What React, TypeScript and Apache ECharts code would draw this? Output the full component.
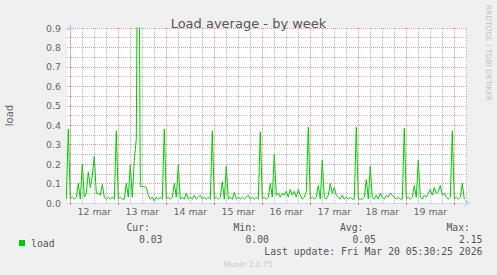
import React, { useEffect, useRef } from "react";
import * as echarts from "echarts";

// hours relative to Mar 12 00:00; first sample at Mar 11 22:00, hourly
const START_HOUR = -2;
const X_MIN = -1.65;
const X_MAX = 198.35;

const load: number[] = [
  // Mar 11 22:00 .. Mar 12 21:00
  0.02, 0.38, 0.02, 0.03, 0.02, 0.03, 0.10, 0.02, 0.20, 0.03, 0.05, 0.16, 0.08, 0.14, 0.24, 0.05, 0.05, 0.04, 0.095, 0.03, 0.02, 0.03, 0.02, 0.03,
  0.02, 0.37, 0.02, 0.03, 0.02, 0.02, 0.10, 0.03, 0.195, 0.03, 0.22, 0.33, 2.15, 0.085, 0.085, 0.085, 0.08, 0.04, 0.02, 0.03, 0.01, 0.03, 0.02, 0.03,
  0.02, 0.38, 0.02, 0.03, 0.02, 0.03, 0.10, 0.03, 0.195, 0.02, 0.03, 0.02, 0.05, 0.02, 0.03, 0.02, 0.04, 0.02, 0.03, 0.04, 0.02, 0.03, 0.02, 0.03,
  0.02, 0.37, 0.02, 0.03, 0.02, 0.03, 0.11, 0.02, 0.19, 0.02, 0.03, 0.02, 0.055, 0.02, 0.03, 0.02, 0.03, 0.02, 0.03, 0.04, 0.02, 0.03, 0.02, 0.03,
  0.02, 0.365, 0.02, 0.03, 0.02, 0.03, 0.10, 0.03, 0.25, 0.04, 0.05, 0.03, 0.05, 0.04, 0.06, 0.03, 0.07, 0.04, 0.06, 0.03, 0.07, 0.04, 0.02, 0.03,
  0.06, 0.39, 0.02, 0.03, 0.02, 0.03, 0.09, 0.02, 0.22, 0.03, 0.02, 0.04, 0.10, 0.05, 0.08, 0.04, 0.03, 0.02, 0.04, 0.02, 0.03, 0.02, 0.03, 0.02,
  0.02, 0.39, 0.02, 0.02, 0.02, 0.03, 0.12, 0.02, 0.19, 0.03, 0.02, 0.04, 0.02, 0.05, 0.03, 0.02, 0.04, 0.03, 0.05, 0.04, 0.03, 0.02, 0.03, 0.02,
  0.02, 0.385, 0.02, 0.03, 0.02, 0.03, 0.09, 0.03, 0.22, 0.03, 0.02, 0.04, 0.03, 0.05, 0.07, 0.04, 0.08, 0.05, 0.06, 0.09, 0.04, 0.05, 0.03, 0.02,
  0.03, 0.37, 0.02, 0.03, 0.02, 0.03, 0.10, 0.02,
];

const dayLabels = ["12 mar", "13 mar", "14 mar", "15 mar", "16 mar", "17 mar", "18 mar", "19 mar"];
const dayNoonHours = [12, 36, 60, 84, 108, 132, 156, 180];
const midnightHours = [0, 24, 48, 72, 96, 120, 144, 168, 192];
const sixHourMarks = Array.from({ length: 34 }, (_, k) => k * 6).filter((h) => h % 24 !== 0);

const statHeaders = ["Cur:", "Min:", "Avg:", "Max:"];
const statValues = ["0.03", "0.00", "0.05", "2.15"];
const lastUpdate = "Last update: Fri Mar 20 05:30:25 2026";

const TEXT = "#666666";
const MONO = "'DejaVu Sans Mono', monospace";
const SANS = "'DejaVu Sans', sans-serif";
const AXIS = "#CFD6F8";
const MAJOR = "rgba(222,79,79,0.6)";
const MINOR = "rgba(143,143,143,0.6)";

export default function App() {
  const ref = useRef<HTMLDivElement>(null);
  useEffect(() => {
    if (!ref.current) return;
    const chart = echarts.init(ref.current, undefined, { renderer: "svg" });
    const data = load.map((v, i) => [START_HOUR + i, v]);
    const headerRight = [150, 257, 363.5, 470];
    const valueRight = [162.5, 269, 376, 482.5];
    chart.setOption({
      animation: false,
      backgroundColor: "#F0F0F0",
      title: {
        text: "Load average - by week",
        left: "center",
        top: 12,
        textStyle: { fontFamily: SANS, fontSize: 13, fontWeight: "normal", color: "#555555" },
      },
      legend: {
        left: 14,
        top: 233,
        itemWidth: 6,
        itemHeight: 6,
        icon: "rect",
        data: [{ name: "load", itemStyle: { color: "#00CC00" } }],
        textStyle: { fontFamily: MONO, fontSize: 9.8, color: "#555555", padding: [0, 0, 0, 1] },
      },
      grid: {
        left: 67,
        right: 30,
        top: 28,
        bottom: 72,
        containLabel: false,
        outerBoundsMode: "none",
        show: true,
        backgroundColor: "#FFFFFF",
        borderWidth: 0,
      },
      xAxis: {
        type: "value",
        min: X_MIN,
        max: X_MAX,
        axisLine: {
          show: true,
          onZero: false,
          lineStyle: { color: AXIS, width: 1 },
          symbol: ["none", "arrow"],
          symbolSize: [6, 7],
          symbolOffset: [-3, 4],
        },
        axisTick: {
          show: true,
          customValues: midnightHours,
          length: 2,
          inside: false,
          lineStyle: { color: "#E07070" },
        },
        axisLabel: {
          customValues: dayNoonHours,
          formatter: (v: number) => dayLabels[dayNoonHours.indexOf(Math.round(v))] ?? "",
          fontFamily: SANS,
          fontSize: 9.4,
          color: TEXT,
          margin: 4,
          showMinLabel: true,
          showMaxLabel: true,
        },
        splitLine: { show: false },
      },
      yAxis: {
        type: "value",
        min: 0,
        max: 0.9,
        interval: 0.1,
        name: "load",
        nameLocation: "middle",
        nameGap: 53,
        nameRotate: 90,
        nameTextStyle: { fontFamily: SANS, fontSize: 10, color: TEXT },
        axisLine: {
          show: true,
          lineStyle: { color: AXIS, width: 1 },
          symbol: ["none", "arrow"],
          symbolSize: [6, 7],
          symbolOffset: [0, 4],
        },
        axisTick: { show: false },
        axisLabel: {
          formatter: (v: number) => v.toFixed(1),
          fontFamily: SANS,
          fontSize: 9.4,
          color: TEXT,
          margin: 6,
        },
        splitLine: { show: true, lineStyle: { color: MAJOR, type: [1, 1], width: 1 } },
        minorTick: { show: false, splitNumber: 2 },
        minorSplitLine: { show: true, lineStyle: { color: MINOR, type: [1, 1], width: 1 } },
      },
      series: [
        {
          name: "grid",
          type: "line",
          data: [],
          silent: true,
          z: 1,
          markLine: {
            silent: true,
            symbol: ["none", "none"],
            label: { show: false },
            animation: false,
            data: [
              ...sixHourMarks.map((h) => ({
                xAxis: h,
                lineStyle: { color: MINOR, type: [1, 1], width: 1 },
              })),
              ...midnightHours.map((h) => ({
                xAxis: h,
                lineStyle: { color: MAJOR, type: [1, 1], width: 1 },
              })),
            ],
          },
        },
        {
          name: "load",
          type: "line",
          data,
          showSymbol: false,
          symbol: "none",
          clip: true,
          z: 3,
          lineStyle: { color: "#00CC00", width: 1 },
          itemStyle: { color: "#00CC00" },
        },
      ],
      graphic: [
        ...statHeaders.map((t, i) => ({
          type: "text",
          style: {
            text: t,
            x: headerRight[i],
            y: 227.5,
            textAlign: "right",
            textVerticalAlign: "middle",
            fontFamily: MONO,
            fontSize: 9.8,
            fill: "#555555",
          },
        })),
        ...statValues.map((t, i) => ({
          type: "text",
          style: {
            text: t,
            x: valueRight[i],
            y: 239.5,
            textAlign: "right",
            textVerticalAlign: "middle",
            fontFamily: MONO,
            fontSize: 9.8,
            fill: "#555555",
          },
        })),
        {
          type: "text",
          style: {
            text: lastUpdate,
            x: 482.5,
            y: 251.5,
            textAlign: "right",
            textVerticalAlign: "middle",
            fontFamily: MONO,
            fontSize: 9.8,
            fill: "#555555",
          },
        },
        {
          type: "text",
          style: {
            text: "Munin 2.0.75",
            x: 248,
            y: 264.5,
            textAlign: "center",
            textVerticalAlign: "middle",
            fontFamily: SANS,
            fontSize: 7.5,
            fill: "#C8C8C8",
          },
        },
        {
          type: "text",
          x: 488.5,
          y: 53,
          rotation: -Math.PI / 2,
          style: {
            text: "RRDTOOL / TOBI OETIKER",
            x: 0,
            y: 0,
            textAlign: "center",
            textVerticalAlign: "middle",
            fontFamily: SANS,
            fontSize: 7.5,
            fill: "#C0C0C0",
          },
        },
      ],
    });
    return () => chart.dispose();
  }, []);
  return (
    <div
      ref={ref}
      style={{ position: "fixed", left: 0, top: 0, width: 497, height: 275, background: "#F0F0F0" }}
    />
  );
}
